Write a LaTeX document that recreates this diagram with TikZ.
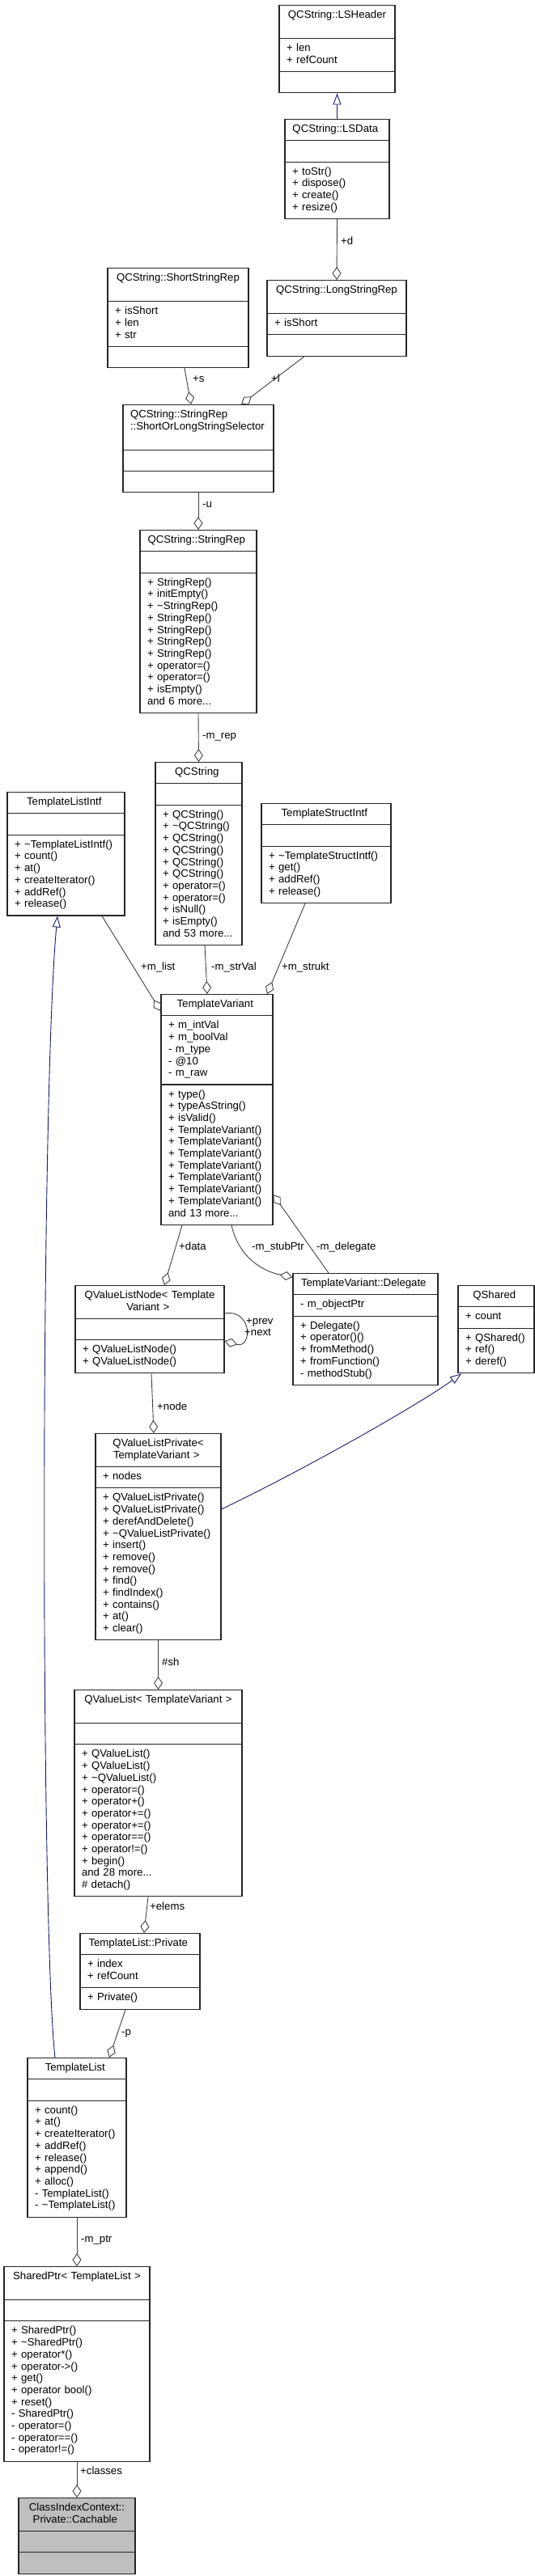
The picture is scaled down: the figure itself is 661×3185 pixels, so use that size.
\documentclass[tikz,border=0pt]{standalone}
\usepackage{fontspec}
\newfontfamily\doxyfont{Liberation Sans}
\usetikzlibrary{shapes.multipart,arrows.meta}
\pgfdeclarelayer{bg}
\pgfsetlayers{bg,main}
\definecolor{edgegray}{HTML}{404040}
\definecolor{inhblue}{HTML}{191970}
\definecolor{boxgray}{HTML}{262626}
\definecolor{maingray}{HTML}{BFBFBF}
\tikzset{
    umlclass/.style={rectangle split, rectangle split parts=3, draw=boxgray, line width=1.1pt,
        fill=white, anchor=north, align=left, inner xsep=9pt, inner ysep=5.25pt,
        font=\doxyfont\fontsize{13.2}{14.7}\selectfont,
        every text node part/.style={align=center},
        execute at begin node=\strut, execute at end node=\strut}
}
\tikzset{role/.style={font=\doxyfont\fontsize{13.2}{14.7}\selectfont, inner sep=0pt, anchor=west,
    text height=9.5pt, text depth=0pt}}
\tikzset{
    aggr/.style={draw=edgegray, line width=0.9pt, -{Diamond[open, length=16pt, width=11pt]}},
    inherit/.style={draw=inhblue, line width=0.9pt, -{Triangle[open, length=14pt, width=10pt]}}
}

\begin{document}
\begin{tikzpicture}[x=1pt, y=-1pt]
    \useasboundingbox (0,0) rectangle (661,3185);

    \node (lshdr) [umlclass, text width=125pt] at (416.5, 6) {QCString::LSHeader
        \nodepart{second} + len\\+ refCount
        \nodepart{third}};
    \node (lsdata) [umlclass, text width=111pt] at (416.5, 147) {QCString::LSData
        \nodepart{second}
        \nodepart{third} + toStr()\\+ dispose()\\+ create()\\+ resize()};
    \node (srep) [umlclass, text width=156pt] at (220, 331) {QCString::ShortStringRep
        \nodepart{second} + isShort\\+ len\\+ str
        \nodepart{third}};
    \node (lrep) [umlclass, text width=154pt] at (416, 346) {QCString::LongStringRep
        \nodepart{second} + isShort
        \nodepart{third}};
    \node (sel) [umlclass, text width=168pt, every text node part/.style={align=left}] at (245, 500) {QCString::StringRep\\::ShortOrLongStringSelector
        \nodepart{second}
        \nodepart{third}};
    \node (strrep) [umlclass, text width=126pt] at (245, 655) {QCString::StringRep
        \nodepart{second}
        \nodepart{third} + StringRep()\\+ initEmpty()\\+ \textasciitilde StringRep()\\+ StringRep()\\+ StringRep()\\+ StringRep()\\+ StringRep()\\+ operator=()\\+ operator=()\\+ isEmpty()\\and 6 more...};
    \node (qcstr) [umlclass, text width=89pt] at (245.5, 942) {QCString
        \nodepart{second}
        \nodepart{third} + QCString()\\+ \textasciitilde QCString()\\+ QCString()\\+ QCString()\\+ QCString()\\+ QCString()\\+ operator=()\\+ operator=()\\+ isNull()\\+ isEmpty()\\and 53 more...};
    \node (tlintf) [umlclass, text width=127pt] at (81.5, 979) {TemplateListIntf
        \nodepart{second}
        \nodepart{third} + \textasciitilde TemplateListIntf()\\+ count()\\+ at()\\+ createIterator()\\+ addRef()\\+ release()};
    \node (tsintf) [umlclass, text width=142pt] at (403, 993) {TemplateStructIntf
        \nodepart{second}
        \nodepart{third} + \textasciitilde TemplateStructIntf()\\+ get()\\+ addRef()\\+ release()};
    \node (tvar) [umlclass, text width=120pt] at (268, 1229) {TemplateVariant
        \nodepart{second} + m\_intVal\\+ m\_boolVal\\- m\_type\\- @10\\- m\_raw
        \nodepart{third} + type()\\+ typeAsString()\\+ isValid()\\+ TemplateVariant()\\+ TemplateVariant()\\+ TemplateVariant()\\+ TemplateVariant()\\+ TemplateVariant()\\+ TemplateVariant()\\+ TemplateVariant()\\and 13 more...};
    \node (qvln) [umlclass, text width=166pt] at (185, 1589) {QValueListNode< Template\\Variant >
        \nodepart{second}
        \nodepart{third} + QValueListNode()\\+ QValueListNode()};
    \node (dlg) [umlclass, text width=161pt] at (451.5, 1574) {TemplateVariant::Delegate
        \nodepart{second} - m\_objectPtr
        \nodepart{third} + Delegate()\\+ operator()()\\+ fromMethod()\\+ fromFunction()\\- methodStub()};
    \node (qshared) [umlclass, text width=76pt] at (613, 1589) {QShared
        \nodepart{second} + count
        \nodepart{third} + QShared()\\+ ref()\\+ deref()};
    \node (qvlp) [umlclass, text width=137pt] at (195.5, 1772) {QValueListPrivate<\\TemplateVariant >
        \nodepart{second} + nodes
        \nodepart{third} + QValueListPrivate()\\+ QValueListPrivate()\\+ derefAndDelete()\\+ \textasciitilde QValueListPrivate()\\+ insert()\\+ remove()\\+ remove()\\+ find()\\+ findIndex()\\+ contains()\\+ at()\\+ clear()};
    \node (qvl) [umlclass, text width=189pt] at (195.5, 2089) {\makebox[\linewidth]{QValueList< TemplateVariant >}
        \nodepart{second}
        \nodepart{third} + QValueList()\\+ QValueList()\\+ \textasciitilde QValueList()\\+ operator=()\\+ operator+()\\+ operator+=()\\+ operator+=()\\+ operator==()\\+ operator!=()\\+ begin()\\and 28 more...\\\# detach()};
    \node (tlpriv) [umlclass, text width=130pt] at (173, 2390) {TemplateList::Private
        \nodepart{second} + index\\+ refCount
        \nodepart{third} + Private()};
    \node (tlist) [umlclass, text width=104pt] at (95, 2544) {TemplateList
        \nodepart{second}
        \nodepart{third} + count()\\+ at()\\+ createIterator()\\+ addRef()\\+ release()\\+ append()\\+ alloc()\\- TemplateList()\\- \textasciitilde TemplateList()};
    \node (sptr) [umlclass, text width=162pt] at (95, 2802) {\makebox[\linewidth]{SharedPtr< TemplateList >}
        \nodepart{second}
        \nodepart{third} + SharedPtr()\\+ \textasciitilde SharedPtr()\\+ operator*()\\+ operator->()\\+ get()\\+ operator bool()\\+ reset()\\- SharedPtr()\\- operator=()\\- operator==()\\- operator!=()};
    \node (cache) [umlclass, fill=maingray, text width=126pt] at (95, 3088) {ClassIndexContext::\\Private::Cachable
        \nodepart{second}
        \nodepart{third}};

    % member names on the connectors
    \node (ld) [role] at (421, 298) {+d};
    \node (ls) [role] at (238, 468) {+s};
    \node (ll) [role] at (335, 468) {+l};
    \node (lu) [role] at (250, 623) {-u};
    \node (lmrep) [role] at (250, 909) {-m\_rep};
    \node (lmlist) [role] at (174, 1195) {+m\_list};
    \node (lmstr) [role] at (261, 1195) {-m\_strVal};
    \node (lmstrukt) [role] at (348, 1195) {+m\_strukt};
    \node (ldata) [role] at (221, 1541) {+data};
    \node (lstub) [role] at (311, 1541) {-m\_stubPtr};
    \node (ldlg) [role] at (391, 1541) {-m\_delegate};
    \node (lprev) [role] at (304, 1633) {+prev};
    \node (lnext) [role] at (302, 1647) {+next};
    \node (lnode) [role] at (194, 1739) {+node};
    \node (lsh) [role] at (200, 2055) {\#sh};
    \node (lelems) [role] at (185, 2357) {+elems};
    \node (lp) [role] at (150, 2512) {-p};
    \node (lmptr) [role] at (100, 2768) {-m\_ptr};
    \node (lclasses) [role] at (99, 3055) {+classes};

    \begin{pgfonlayer}{bg}
        \draw (lsdata.north) edge [inherit] (lshdr.south);
        \draw (lsdata.south) edge [aggr] (lrep.north);
        \draw ([xshift=8pt]srep.south) edge [aggr] ([xshift=-9pt]sel.north);
        \draw ([xshift=-40pt]lrep.south) edge [aggr] ([xshift=53pt]sel.north);
        \draw (sel.south) edge [aggr] (strrep.north);
        \draw (strrep.south) edge [aggr] (qcstr.north);

        \draw ([xshift=44.5pt]tlintf.south) edge [aggr] ([yshift=-21pt]tvar.north west);
        \draw ([xshift=7.5pt]qcstr.south) edge [aggr] ([xshift=-12pt]tvar.north);
        \draw ([xshift=-26pt]tsintf.south) edge [aggr] ([xshift=62pt]tvar.north);

        \draw ([xshift=-43pt]tvar.south) edge [aggr] ([xshift=18pt]qvln.north);
        \draw [aggr] ([yshift=-35pt]qvln.north east) .. controls (312,1618) and (312,1668) .. ([yshift=-69pt]qvln.north east);
        \draw [aggr] ([xshift=18pt]tvar.south) .. controls (295,1555) and (325,1572) .. ([yshift=-5pt]dlg.north west);
        \draw ([xshift=-45.5pt]dlg.north) edge [aggr] ([yshift=-248pt]tvar.north east);

        \draw ([xshift=2pt]qvln.south) edge [aggr] ([xshift=-5.5pt]qvlp.north);
        \draw [inherit] ([yshift=-94pt]qvlp.north east) .. controls (380,1815) and (520,1735) .. ([xshift=-43pt]qshared.south);
        \draw (qvlp.south) edge [aggr] (qvl.north);
        \draw ([xshift=-12.5pt]qvl.south) edge [aggr] ([xshift=5pt]tlpriv.north);
        \draw ([xshift=-18pt]tlpriv.south) edge [aggr] ([xshift=40pt]tlist.north);
        \draw [inherit] ([xshift=-27pt]tlist.north) .. controls (50,2380) and (50,1360) .. ([xshift=-10.5pt]tlintf.south);
        \draw (tlist.south) edge [aggr] (sptr.north);
        \draw (sptr.south) edge [aggr] (cache.north);
    \end{pgfonlayer}
\end{tikzpicture}
\end{document}
